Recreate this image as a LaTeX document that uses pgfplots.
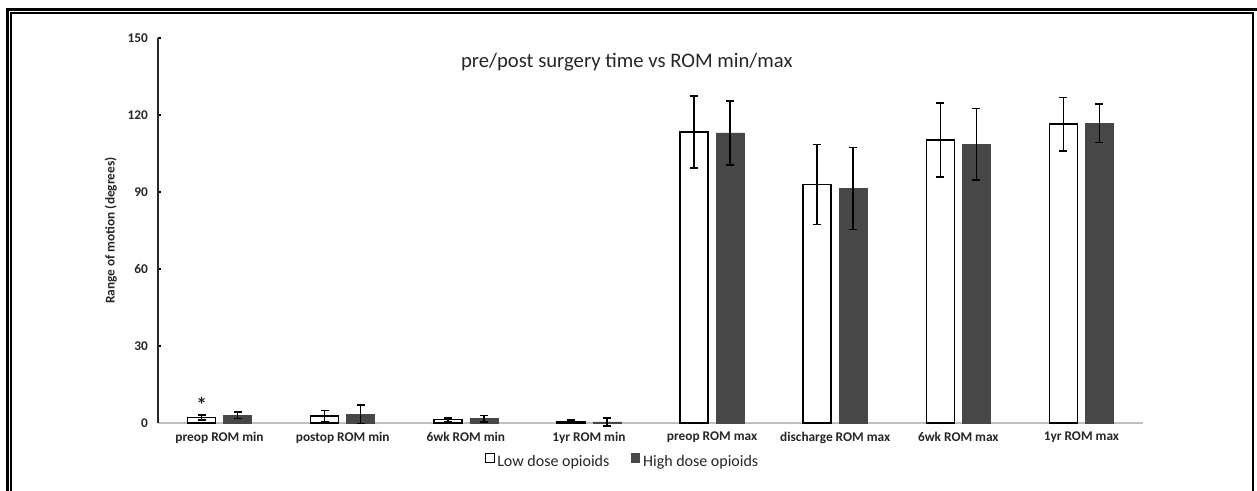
\documentclass[border=0pt]{standalone}
\usepackage{pgfplots}
\pgfplotsset{compat=1.18}
\usepackage{pgfplotstable}
\usepackage{fontspec}
\setmainfont{Carlito}
\definecolor{darkbar}{HTML}{474747}
\definecolor{axgray}{HTML}{C0C0C0}

\pgfplotstableread{
x lo loerr hi hierr
0 2.1 1.0 3.0 1.3
1 2.7 2.1 3.4 3.7
2 1.3 0.7 1.7 1.3
3 0.6 0.5 0.4 1.5
4 113.4 14.0 113.0 12.4
5 93.0 15.6 91.3 16.0
6 110.2 14.4 108.6 14.0
7 116.4 10.4 116.8 7.5
}\romdata

\begin{document}
\begin{tikzpicture}
\useasboundingbox (0,0) rectangle (942.75pt,368.25pt);
% frame
\draw[line width=2.25pt] (5.625pt,0pt) -- (5.625pt,361.125pt) -- (942.75pt,361.125pt);
\draw[line width=0.9pt] (8.25pt,0pt) -- (8.25pt,358.5pt) -- (939.75pt,358.5pt) -- (939.75pt,0pt);
\begin{axis}[
  at={(118.5pt,51pt)}, anchor=south west,
  scale only axis, width=738.75pt, height=288.75pt,
  ybar=6pt, bar width=21pt,
  xmin=-0.5, xmax=7.5, ymin=0, ymax=150,
  axis x line*=bottom, axis y line*=left,
  x axis line style={draw=axgray, line width=1.1pt, -},
  y axis line style={draw=black!85, line width=0.9pt, -},
  xtick=data,
  xticklabels={preop ROM min, postop ROM min, 6wk ROM min, 1yr ROM min, preop ROM max, discharge ROM max, 6wk ROM max, 1yr ROM max},
  xtick style={draw=none},
  ytick={0,30,60,90,120,150},
  ytick style={draw=black, line width=0.8pt},
  tick align=inside, major tick length=2.5pt,
  /pgf/number format/assume math mode=true,
  tick label style={font=\fontsize{10}{12}\selectfont\bfseries, text=black!85},
  xticklabel style={yshift=-3pt},
  yticklabel style={xshift=-4pt},
  ylabel={Range of motion (degrees)},
  every axis y label/.style={at={(axis description cs:-0.048,0.5)}, rotate=90, anchor=center, font=\fontsize{10}{12}\selectfont\bfseries, text=black!85},
  title={pre/post surgery time vs ROM min/max},
  every axis title/.style={at={(axis description cs:0.476,0.938)}, anchor=center, font=\fontsize{15.5}{18}\selectfont, text=black!85},
  legend columns=2,
  legend style={at={(axis description cs:0.472,-0.101)}, anchor=center, draw=none, fill=none,
    font=\fontsize{12}{14}\selectfont, text=black!85,
    /tikz/every even column/.append style={column sep=14pt}},
  clip=false,
]
\addplot[draw=black, fill=white, line width=1.1pt,
  legend image code/.code={\draw[draw=black, fill=white, line width=0.8pt] (0pt,-0.5pt) rectangle (6.5pt,6.5pt);},
  error bars/.cd, y dir=both, y explicit,
  error bar style={black, line width=1.1pt},
  error mark options={rotate=90, mark size=3pt, line width=1.1pt, black}]
  table[x=x, y=lo, y error=loerr]{\romdata};
\addlegendentry{Low dose opioids}
\addplot[draw=darkbar, fill=darkbar, line width=0.4pt,
  legend image code/.code={\draw[draw=darkbar, fill=darkbar, line width=0.8pt] (0pt,-0.5pt) rectangle (6.5pt,6.5pt);},
  error bars/.cd, y dir=both, y explicit,
  error bar style={black, line width=1.1pt},
  error mark options={rotate=90, mark size=3pt, line width=1.1pt, black}]
  table[x=x, y=hi, y error=hierr]{\romdata};
\addlegendentry{High dose opioids}
\node[font=\fontsize{16}{16}\selectfont\bfseries, text=black!85] at (axis cs:-0.146,7) {*};
\end{axis}
\end{tikzpicture}
\end{document}
